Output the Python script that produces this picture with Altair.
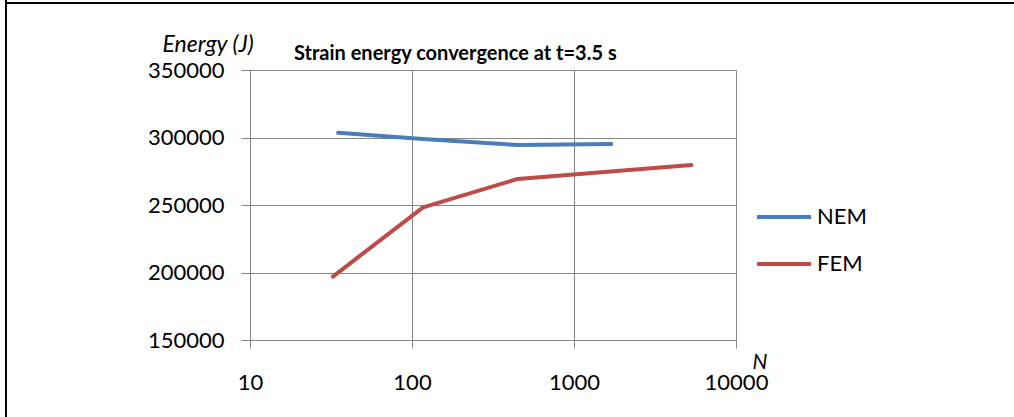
import altair as alt
import pandas as pd

# ---- data ----
series = ["NEM", "FEM"]
colors = ["#4A7EBB", "#BE4B48"]
nem_n = [35, 117, 449, 1700]
nem_e = [303500, 298900, 294400, 295200]
fem_n = [32.5, 117, 449, 5300]
fem_e = [197000, 248300, 269300, 279600]
x_ticks = [10, 100, 1000, 10000]
y_ticks = [150000, 200000, 250000, 300000, 350000]
title_text = "Strain energy convergence at t=3.5 s"

df = pd.DataFrame({
    "N": nem_n + fem_n,
    "E": nem_e + fem_e,
    "S": ["NEM"] * len(nem_n) + ["FEM"] * len(fem_n),
    "o": list(range(len(nem_n))) + list(range(len(fem_n))),
})

FONT = "Lato"
GRID = "#868686"

lines = alt.Chart(df).mark_line(strokeWidth=4, strokeJoin="round", strokeCap="round").encode(
    x=alt.X("N:Q",
            scale=alt.Scale(type="log", domain=[10, 10000], nice=False),
            axis=alt.Axis(values=x_ticks, format="d", title="N",
                          titleAngle=0, titleAlign="left", titleBaseline="alphabetic",
                          titleX=502, titleY=28, titleFont=FONT, titleFontStyle="italic",
                          titleFontWeight="normal", titleFontSize=21, titleColor="black",
                          labelFont=FONT, labelFontSize=22, labelColor="black", labelPadding=24,
                          tickSize=8, tickColor=GRID, domainColor=GRID, gridColor=GRID,
                          labelFlush=False, labelOverlap=False)),
    y=alt.Y("E:Q",
            scale=alt.Scale(domain=[150000, 350000], nice=False, zero=False),
            axis=alt.Axis(values=y_ticks, format="d", title="Energy (J)",
                          titleAngle=0, titleAlign="left", titleBaseline="alphabetic",
                          titleX=-88, titleY=-19, titleFont=FONT, titleFontStyle="italic",
                          titleFontWeight="normal", titleFontSize=23, titleColor="black",
                          labelFont=FONT, labelFontSize=22, labelColor="black", labelPadding=17,
                          tickSize=9, tickColor=GRID, domainColor=GRID, gridColor=GRID,
                          labelFlush=False, labelOverlap=False)),
    color=alt.Color("S:N", scale=alt.Scale(domain=series, range=colors),
                    legend=alt.Legend(title=None, orient="none", legendX=505, legendY=135,
                                      symbolType="stroke", symbolSize=2916, symbolStrokeWidth=4,
                                      labelFont=FONT, labelFontSize=22, labelColor="black",
                                      clipHeight=24, rowPadding=23, labelOffset=4)),
    order="o:Q",
)

one = pd.DataFrame({"t": [title_text]})
title = alt.Chart(one).mark_text(font=FONT, fontSize=20, fontWeight="bold", color="black",
                                 align="left", baseline="alphabetic").encode(
    text="t:N", x=alt.value(44), y=alt.value(-10))

left_border = alt.Chart(one).mark_rule(color="black", strokeWidth=2).encode(
    x=alt.value(-244), y=alt.value(-70), y2=alt.value(347))
top_border = alt.Chart(one).mark_rule(color="black", strokeWidth=2).encode(
    x=alt.value(-244), x2=alt.value(764), y=alt.value(-67))

chart = alt.layer(lines, title, left_border, top_border).properties(
    width=486, height=270,
    autosize=alt.AutoSizeParams(type="none"),
    padding={"left": 250, "top": 70, "right": 278, "bottom": 77},
).configure_view(strokeWidth=0).configure(background="white")

chart.save("out.html", embed_options={"renderer": "svg", "actions": False})
